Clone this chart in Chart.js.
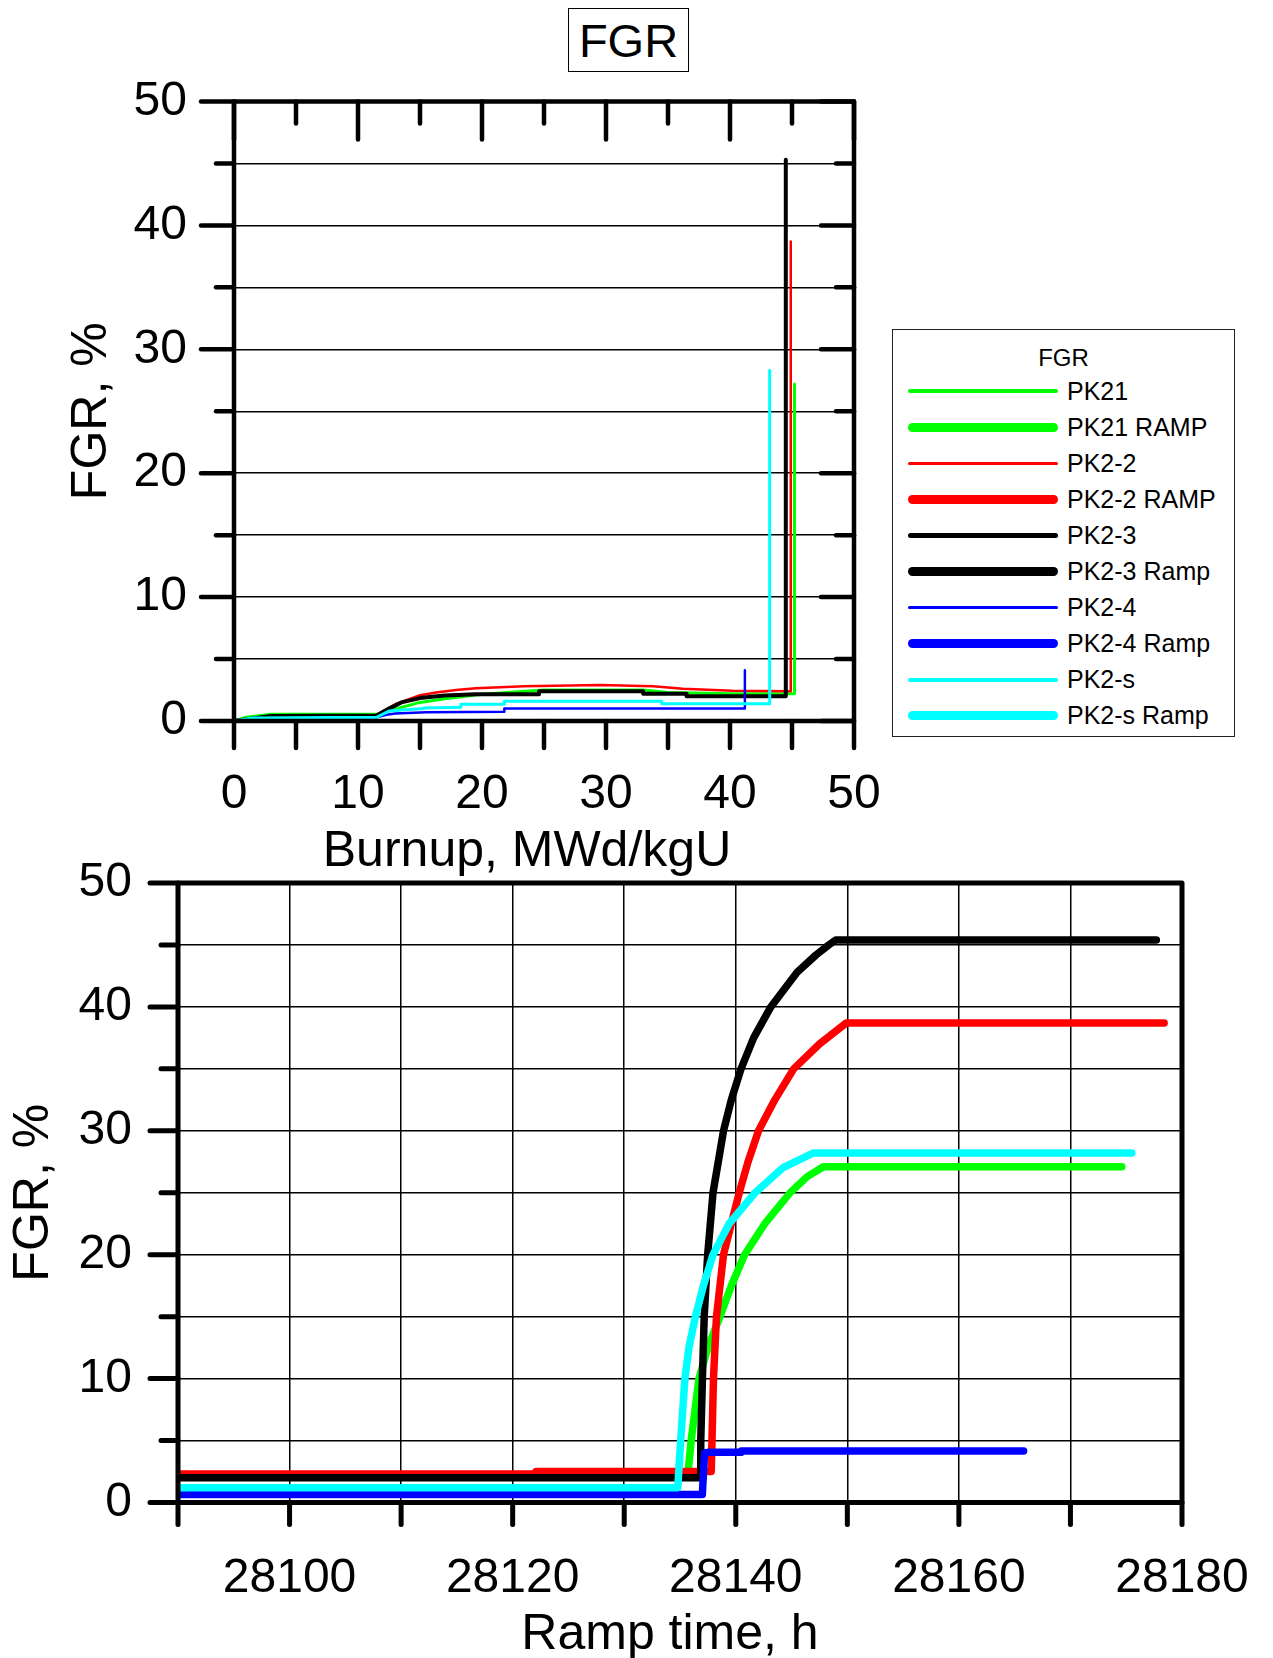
<!DOCTYPE html>
<html>
<head>
<meta charset="utf-8">
<title>FGR</title>
<script src="https://cdn.jsdelivr.net/npm/chart.js@4.4.1/dist/chart.umd.min.js"></script>
<style>
  html, body { margin: 0; padding: 0; background: #fff; }
  body { width: 1273px; height: 1658px; position: relative; overflow: hidden;
         font-family: 'Liberation Sans', Arial, sans-serif; color: #000; }
  canvas { position: absolute; left: 0; }
  #burnupChart { top: 0; }
  #rampChart { top: 800px; }
  #title { position: absolute; left: 568px; top: 8px; width: 119px; height: 62px;
           border: 1.5px solid #000; font-size: 47px; line-height: 64px; text-align: center; }
  #legend { position: absolute; left: 892px; top: 329px; width: 341px; height: 406px;
            border: 1.5px solid #222; background: #fff; }
  #legend .head { position: absolute; left: 0; right: 0; top: 16px; text-align: center;
                  font-size: 24px; line-height: 24px; }
  #legend .row { position: absolute; left: 15px; height: 36px; display: flex; align-items: center;
                 font-size: 25px; white-space: nowrap; }
  #legend .swatch { width: 150px; margin-right: 9px; border-radius: 5px; }
</style>
</head>
<body>
<div id="title">FGR</div>
<canvas id="burnupChart" width="900" height="880"></canvas>
<canvas id="rampChart" width="1273" height="858"></canvas>
<div id="legend"><div class="head">FGR</div></div>
<script>
// rod names and colours, same order for base-irradiation and ramp curves
const seriesNames = ['PK21', 'PK2-2', 'PK2-3', 'PK2-4', 'PK2-s'];
const rampNames = ['PK21 RAMP', 'PK2-2 RAMP', 'PK2-3 Ramp', 'PK2-4 Ramp', 'PK2-s Ramp'];
const seriesColors = ['#00ff00', '#ff0000', '#000000', '#0000ff', '#00ffff'];
const seriesWidths = [3, 2.5, 4, 2.5, 3];
const rampWidths = [7.5, 7.5, 7.5, 7.5, 7.5];

// FGR (%) vs burnup (MWd/kgU)
const pk21Burnup = [0, 1, 3, 11.5, 12.5, 13.5, 15, 17, 19.5, 22, 25, 33, 35, 40, 45.2, 45.2];
const pk21Fgr = [0, 0.3, 0.55, 0.55, 0.8, 1.1, 1.5, 1.8, 2.1, 2.3, 2.5, 2.5, 2.3, 2.2, 2.2, 27.2];

const pk22Burnup = [0, 2, 3.8, 11.5, 13.1, 14.9, 16.3, 17.9, 19.5, 23.4, 29.5, 33.8, 36.2, 40.2, 44.9, 44.9];
const pk22Fgr = [0, 0.3, 0.45, 0.47, 1.4, 2.05, 2.3, 2.5, 2.65, 2.8, 2.9, 2.8, 2.6, 2.45, 2.4, 38.7];

const pk23Burnup = [0, 3, 11.5, 12.5, 13.5, 15, 17, 19.5, 24.6, 24.6, 33, 33, 36.5, 36.5, 44.5, 44.5];
const pk23Fgr = [0, 0.4, 0.45, 1.0, 1.5, 1.85, 2.05, 2.15, 2.15, 2.4, 2.4, 2.2, 2.2, 2.0, 2.0, 45.3];

const pk24Burnup = [0, 1.5, 6.5, 6.5, 11.5, 12.3, 13, 15.5, 21.8, 21.8, 41.2, 41.2];
const pk24Fgr = [0, 0.2, 0.2, 0.3, 0.3, 0.5, 0.6, 0.7, 0.75, 1.0, 1.0, 4.1];

const pk2sBurnup = [0, 1.5, 11.5, 12.5, 15.3, 15.3, 18.3, 18.3, 21.8, 21.8, 34.5, 34.5, 43.2, 43.2];
const pk2sFgr = [0, 0.25, 0.3, 0.8, 1.0, 1.05, 1.1, 1.35, 1.35, 1.6, 1.6, 1.4, 1.4, 28.3];

// FGR (%) vs ramp time (h)
const pk21RampTime = [28090, 28135.7, 28136.0, 28136.7, 28137.5, 28138.58, 28139.6, 28140.79, 28142.6, 28144.87, 28146.4, 28147.86, 28174.6];
const pk21RampFgr = [2.2, 2.2, 5, 10, 12.5, 15, 17.5, 20, 22.5, 25, 26.3, 27.1, 27.1];

const pk22RampTime = [28090, 28122.1, 28122.1, 28137.8, 28138.0, 28138.27, 28138.9, 28139.6, 28140.31, 28141.1, 28142.04, 28143.5, 28145.19, 28147.5, 28149.9, 28178.4];
const pk22RampFgr = [2.3, 2.3, 2.5, 2.5, 10, 15, 20, 22.5, 25, 27.5, 30, 32.5, 35, 37, 38.7, 38.7];

const pk23RampTime = [28090, 28136.8, 28136.86, 28137.01, 28137.17, 28137.48, 28137.96, 28138.9, 28139.6, 28140.47, 28141.6, 28143.14, 28145.5, 28147.2, 28148.33, 28148.96, 28177.7];
const pk23RampFgr = [2.0, 2.0, 5, 10, 15, 20, 25, 30, 32.5, 35, 37.5, 40, 42.8, 44.2, 45, 45.4, 45.4];

const pk24RampTime = [28090, 28137.0, 28137.2, 28137.6, 28140.5, 28140.5, 28165.8];
const pk24RampFgr = [0.65, 0.65, 4.0, 4.05, 4.05, 4.15, 4.15];

const pk2sRampTime = [28090, 28134.8, 28135.06, 28135.44, 28135.8, 28136.38, 28137.1, 28137.96, 28139.4, 28141.73, 28144.2, 28146.92, 28175.5];
const pk2sRampFgr = [1.2, 1.2, 5, 10, 12.5, 15, 17.5, 20, 22.5, 25, 27, 28.2, 28.2];

const burnupX = [pk21Burnup, pk22Burnup, pk23Burnup, pk24Burnup, pk2sBurnup];
const burnupY = [pk21Fgr, pk22Fgr, pk23Fgr, pk24Fgr, pk2sFgr];
const rampX = [pk21RampTime, pk22RampTime, pk23RampTime, pk24RampTime, pk2sRampTime];
const rampY = [pk21RampFgr, pk22RampFgr, pk23RampFgr, pk24RampFgr, pk2sRampFgr];

const FONT = "'Liberation Sans', Arial, sans-serif";
Chart.defaults.font.family = FONT;
Chart.defaults.color = '#000';

const toPoints = (xs, ys) => xs.map((x, i) => ({ x: x, y: ys[i] }));

// thick box around the plot plus the little tick marks (in or out per side)
const framePlugin = {
  id: 'frame',
  afterDatasetsDraw(chart, args, opts) {
    const { ctx, chartArea: area, scales } = chart;
    ctx.save();
    ctx.strokeStyle = '#000';
    ctx.lineCap = 'round';
    ctx.lineWidth = opts.width;
    Object.keys(opts.ticks).forEach((side) => {
      const s = opts.ticks[side];
      const scale = (side === 'left' || side === 'right') ? scales.y : scales.x;
      const dir = s.out ? 1 : -1;
      scale.ticks.forEach((t) => {
        const p = scale.getPixelForValue(t.value);
        const len = ((t.value - s.from) % s.every === 0) ? s.major : s.minor;
        ctx.beginPath();
        if (side === 'left') { ctx.moveTo(area.left, p); ctx.lineTo(area.left - dir * len, p); }
        if (side === 'right') { ctx.moveTo(area.right, p); ctx.lineTo(area.right + dir * len, p); }
        if (side === 'top') { ctx.moveTo(p, area.top); ctx.lineTo(p, area.top - dir * len); }
        if (side === 'bottom') { ctx.moveTo(p, area.bottom); ctx.lineTo(p, area.bottom + dir * len); }
        ctx.stroke();
      });
    });
    ctx.lineJoin = 'round';
    ctx.strokeRect(area.left, area.top, area.right - area.left, area.bottom - area.top);
    ctx.restore();
  }
};

function makeDatasets(names, xs, ys, widths) {
  return names.map((name, i) => ({
    label: name,
    data: toPoints(xs[i], ys[i]),
    borderColor: seriesColors[i],
    backgroundColor: seriesColors[i],
    borderWidth: widths[i],
    borderCapStyle: 'round',
    borderJoinStyle: 'round',
    pointRadius: 0,
    fill: false,
    tension: 0,
    order: names.length - i
  }));
}

// fixed box sizes so the plot frame lands where it should; edge labels may overhang.
// the x title sits a little left of the plot centre, so nudge it by dx
const fixHeight = (h, dx) => (scale) => {
  scale.height = h;
  scale.paddingLeft = 0;
  scale.paddingRight = 0;
  if (!scale._titleNudged) {
    const drawTitle = scale.drawTitle.bind(scale);
    scale.drawTitle = function () {
      this.ctx.save();
      this.ctx.translate(dx, 0);
      drawTitle();
      this.ctx.restore();
    };
    scale._titleNudged = true;
  }
};
const fixWidth = (w) => (scale) => { scale.width = w; };

const tickFont = { size: 48, lineHeight: 1 };
const titleFont = { size: 50, lineHeight: 1 };

const burnupChart = new Chart(document.getElementById('burnupChart'), {
  type: 'line',
  data: { datasets: makeDatasets(seriesNames, burnupX, burnupY, seriesWidths) },
  options: {
    responsive: false,
    animation: false,
    layout: { padding: { top: 101.5, right: 46, left: 0, bottom: 0 } },
    plugins: {
      legend: { display: false },
      tooltip: { enabled: false },
      frame: {
        width: 4.5,
        ticks: {
          left: { out: true, from: 0, every: 10, major: 33, minor: 18 },
          right: { out: false, from: 0, every: 10, major: 33, minor: 18 },
          top: { out: false, from: 0, every: 10, major: 38, minor: 22 },
          bottom: { out: true, from: 0, every: 10, major: 27, minor: 27 }
        }
      }
    },
    scales: {
      x: {
        type: 'linear', min: 0, max: 50,
        afterFit: fixHeight(159, -17),
        grid: { display: false, drawTicks: false },
        border: { display: false },
        ticks: { stepSize: 5, autoSkip: false, maxRotation: 0, padding: 50, font: tickFont,
                 callback: (v) => (v % 10 === 0 ? String(v) : '') },
        title: { display: true, text: 'Burnup, MWd/kgU', font: titleFont, padding: { top: 0, bottom: 3 } }
      },
      y: {
        min: 0, max: 50,
        afterFit: fixWidth(234),
        grid: { color: '#000', lineWidth: 1.5, drawTicks: false },
        border: { display: false },
        ticks: { stepSize: 5, autoSkip: false, padding: 47, font: tickFont,
                 callback: (v) => (v % 10 === 0 ? String(v) : '') },
        title: { display: true, text: 'FGR, %', font: titleFont, padding: { top: 67, bottom: 0 } }
      }
    }
  },
  plugins: [framePlugin]
});

const rampChart = new Chart(document.getElementById('rampChart'), {
  type: 'line',
  data: { datasets: makeDatasets(rampNames, rampX, rampY, rampWidths) },
  options: {
    responsive: false,
    animation: false,
    layout: { padding: { top: 83, right: 91, left: 0, bottom: 0 } },
    plugins: {
      legend: { display: false },
      tooltip: { enabled: false },
      frame: {
        width: 5,
        ticks: {
          left: { out: true, from: 0, every: 10, major: 28, minor: 17 },
          bottom: { out: true, from: 28090, every: 10, major: 22, minor: 22 }
        }
      }
    },
    scales: {
      x: {
        type: 'linear', min: 28090, max: 28180,
        afterFit: fixHeight(155.5, -10),
        grid: { color: '#000', lineWidth: 1.5, drawTicks: false },
        border: { display: false },
        ticks: { stepSize: 10, autoSkip: false, maxRotation: 0, padding: 52, font: tickFont,
                 callback: (v) => ((v - 28100) % 20 === 0 ? String(v) : '') },
        title: { display: true, text: 'Ramp time, h', font: titleFont, padding: { top: 0, bottom: -2 } }
      },
      y: {
        min: 0, max: 50,
        afterFit: fixWidth(178),
        grid: { color: '#000', lineWidth: 1.5, drawTicks: false },
        border: { display: false },
        ticks: { stepSize: 5, autoSkip: false, padding: 46, font: tickFont,
                 callback: (v) => (v % 10 === 0 ? String(v) : '') },
        title: { display: true, text: 'FGR, %', font: titleFont, padding: { top: 9, bottom: 0 } }
      }
    }
  },
  plugins: [framePlugin]
});

// legend: each base curve followed by its ramp curve
const legendBox = document.getElementById('legend');
const legendItems = [];
burnupChart.data.datasets.forEach((ds, i) => {
  legendItems.push(ds);
  legendItems.push(rampChart.data.datasets[i]);
});
legendItems.forEach((ds, k) => {
  const row = document.createElement('div');
  row.className = 'row';
  row.style.top = (43 + k * 36.1) + 'px';
  const swatch = document.createElement('span');
  swatch.className = 'swatch';
  swatch.style.height = Math.round(ds.borderWidth * 1.2) + 'px';
  swatch.style.background = ds.borderColor;
  row.appendChild(swatch);
  row.appendChild(document.createTextNode(ds.label));
  legendBox.appendChild(row);
});
</script>
</body>
</html>
